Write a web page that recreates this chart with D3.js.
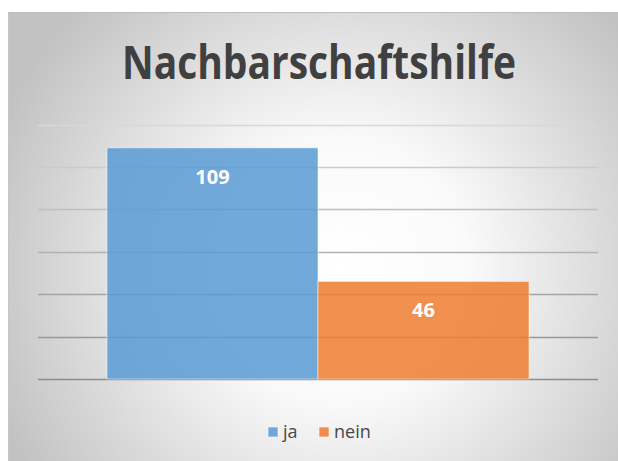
<!DOCTYPE html>
<html>
<head>
<meta charset="utf-8">
<script src="https://cdn.jsdelivr.net/npm/d3@7"></script>
<style>
  body { margin: 0; background: #fff; }
  svg { display: block; }
</style>
</head>
<body>
<div id="chart"></div>
<script>
// chart data
var categories = ["ja", "nein"];
var values = [109, 46];
var colors = ["#5B9BD5", "#ED7D31"];
var yTicks = [0, 20, 40, 60, 80, 100, 120];
var title = "Nachbarschaftshilfe";

// dimensions
var width = 618;
var height = 461;
var frame = { x: 8, y: 12 };
var plot = { left: 38, right: 598, top: 124.5, bottom: 379 };

var svg = d3.select("#chart")
  .append("svg")
    .attr("width", width)
    .attr("height", height);

// radial background like the office chart style
var defs = svg.append("defs");
var grad = defs.append("radialGradient")
    .attr("id", "bg")
    .attr("gradientUnits", "userSpaceOnUse")
    .attr("cx", 340).attr("cy", 270).attr("r", 370);
grad.append("stop").attr("offset", "0%").attr("stop-color", "#ffffff");
grad.append("stop").attr("offset", "35%").attr("stop-color", "#fafafa");
grad.append("stop").attr("offset", "100%").attr("stop-color", "#c2c2c2");

svg.append("rect")
    .attr("x", frame.x)
    .attr("y", frame.y)
    .attr("width", width - frame.x)
    .attr("height", height - frame.y)
    .attr("fill", "url(#bg)");

// frame edge lines
svg.append("line")
    .attr("x1", frame.x).attr("x2", width)
    .attr("y1", frame.y + 0.5).attr("y2", frame.y + 0.5)
    .attr("stroke", "#bdbdbd");
svg.append("line")
    .attr("x1", frame.x + 0.5).attr("x2", frame.x + 0.5)
    .attr("y1", frame.y).attr("y2", height)
    .attr("stroke", "#c6c6c6");

// scales
var x = d3.scaleBand()
    .domain(categories)
    .range([107, 529])
    .paddingInner(0)
    .paddingOuter(0);
var y = d3.scaleLinear()
    .domain([0, 120])
    .range([plot.bottom, plot.top]);

// gridlines (lighter at the top, darker at the bottom)
var gridColor = d3.scaleLinear()
    .domain([120, 0])
    .range(["#d8d8d8", "#8c8c8c"]);

svg.append("g")
    .attr("class", "grid")
  .selectAll("line")
  .data(yTicks)
  .enter().append("line")
    .attr("x1", plot.left)
    .attr("x2", plot.right)
    .attr("y1", function(d) { return Math.round(y(d)) + 0.5; })
    .attr("y2", function(d) { return Math.round(y(d)) + 0.5; })
    .attr("stroke", function(d) { return gridColor(d); })
    .attr("stroke-width", 1.5);

// bars
svg.append("g")
    .attr("class", "bars")
  .selectAll("rect")
  .data(values)
  .enter().append("rect")
    .attr("x", function(d, i) { return x(categories[i]); })
    .attr("y", function(d) { return y(d); })
    .attr("width", x.bandwidth())
    .attr("height", function(d) { return y(0) - y(d); })
    .attr("fill", function(d, i) { return colors[i]; })
    .attr("fill-opacity", 0.86)
    .attr("stroke", "#ffffff")
    .attr("stroke-opacity", 0.5)
    .attr("stroke-width", 1);

// data labels
svg.append("g")
    .attr("class", "labels")
  .selectAll("text")
  .data(values)
  .enter().append("text")
    .attr("x", function(d, i) { return x(categories[i]) + x.bandwidth() / 2; })
    .attr("y", function(d) { return y(d) + 36; })
    .attr("text-anchor", "middle")
    .attr("font-family", "'Open Sans', sans-serif")
    .attr("font-weight", "bold")
    .attr("font-size", 20)
    .attr("fill", "#ffffff")
    .text(function(d) { return d; });

// title, squeezed to the reference width (narrow office font)
svg.append("text")
    .attr("x", 319)
    .attr("y", 79)
    .attr("text-anchor", "middle")
    .attr("font-family", "'Open Sans', sans-serif")
    .attr("font-weight", "bold")
    .attr("font-size", 46)
    .attr("textLength", 394)
    .attr("lengthAdjust", "spacingAndGlyphs")
    .attr("fill", "#404040")
    .text(title);

// legend
var legend = svg.append("g")
    .attr("class", "legend")
    .attr("transform", "translate(268,427)");
var legendX = [0, 51];
categories.forEach(function(c, i) {
  var item = legend.append("g")
      .attr("transform", "translate(" + legendX[i] + ",0)");
  item.append("rect")
      .attr("width", 10)
      .attr("height", 10)
      .attr("fill", colors[i])
      .attr("fill-opacity", 0.86)
      .attr("stroke", "#ffffff")
      .attr("stroke-opacity", 0.6);
  item.append("text")
      .attr("x", 15)
      .attr("y", 11)
      .attr("font-family", "'Open Sans', sans-serif")
      .attr("font-size", 18)
      .attr("fill", "#474747")
      .text(c);
});
</script>
</body>
</html>
